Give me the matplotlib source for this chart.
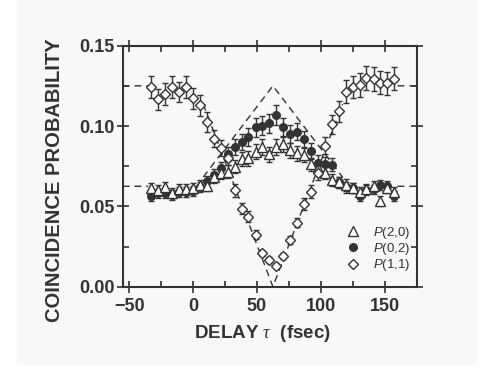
import numpy as np
import matplotlib
matplotlib.use('Agg')
import matplotlib.pyplot as plt
from matplotlib.patches import Rectangle
from matplotlib.ticker import MultipleLocator

# delay positions (fsec)
delay = [-32.6, -27.2, -21.7, -16.3, -10.9, -5.5, 0.0, 5.4, 10.8, 16.3, 21.7, 27.1,
         32.6, 38.0, 43.4, 48.9, 54.3, 59.7, 65.1, 70.6, 76.0, 81.4, 86.9, 92.3,
         97.7, 103.1, 108.6, 114.0, 119.4, 124.9, 130.3, 135.7, 141.2, 146.6, 152.0, 157.5]

p20 = [0.0616, 0.0600, 0.0623, 0.0585, 0.0607, 0.0607, 0.0613, 0.0631, 0.0625, 0.0680, 0.0705, 0.0716,
       0.0747, 0.0795, 0.0799, 0.0840, 0.0872, 0.0823, 0.0867, 0.0887, 0.0848, 0.0830, 0.0820, 0.0763,
       0.0737, 0.0708, 0.0664, 0.0650, 0.0633, 0.0613, 0.0591, 0.0608, 0.0627, 0.0535, 0.0613, 0.0591]
p02 = [0.0565, 0.0581, 0.0581, 0.0571, 0.0591, 0.0591, 0.0597, 0.0619, 0.0656, 0.0698, 0.0737, 0.0826,
       0.0868, 0.0899, 0.0930, 0.0992, 0.1002, 0.1017, 0.1069, 0.0992, 0.0951, 0.0965, 0.0920, 0.0845,
       0.0772, 0.0762, 0.0760, 0.0649, 0.0618, 0.0616, 0.0565, 0.0602, 0.0605, 0.0631, 0.0625, 0.0565]
p11 = [0.1242, 0.1167, 0.1198, 0.1242, 0.1212, 0.1242, 0.1173, 0.1130, 0.1025, 0.0922, 0.0862, 0.0800,
       0.0600, 0.0486, 0.0436, 0.0324, 0.0208, 0.0166, 0.0131, 0.0191, 0.0291, 0.0399, 0.0515, 0.0591,
       0.0710, 0.0878, 0.1011, 0.1092, 0.1214, 0.1242, 0.1256, 0.1301, 0.1295, 0.1270, 0.1266, 0.1295]

e20 = [0.003, 0.003, 0.003, 0.003, 0.003, 0.003, 0.003, 0.003, 0.003, 0.0035, 0.0035, 0.004,
       0.004, 0.0045, 0.0045, 0.0045, 0.005, 0.0045, 0.005, 0.005, 0.0045, 0.0045, 0.0045, 0.004,
       0.004, 0.004, 0.0035, 0.0035, 0.0035, 0.003, 0.003, 0.003, 0.003, 0.003, 0.003, 0.003]
e02 = [0.003, 0.003, 0.003, 0.003, 0.003, 0.003, 0.003, 0.003, 0.0035, 0.0035, 0.004, 0.0045,
       0.005, 0.005, 0.0055, 0.006, 0.006, 0.006, 0.006, 0.006, 0.0055, 0.0055, 0.005, 0.005,
       0.0045, 0.0045, 0.004, 0.0035, 0.0035, 0.003, 0.003, 0.003, 0.003, 0.003, 0.003, 0.003]
e11 = [0.007, 0.0065, 0.007, 0.007, 0.0065, 0.007, 0.0065, 0.0065, 0.006, 0.0055, 0.005, 0.0045,
       0.004, 0.0035, 0.0035, 0.003, 0.002, 0.002, 0.0015, 0.002, 0.0025, 0.003, 0.0035, 0.004,
       0.0045, 0.0055, 0.006, 0.0065, 0.007, 0.007, 0.0075, 0.0075, 0.0075, 0.007, 0.007, 0.007]

# theory curves (dashed), broken where hidden by data
theory_x = [-55, -35, np.nan, 8, 62.5, 117, np.nan, 160, 175]
theory_11 = [0.125, 0.125, np.nan, 0.1136, 0.0, 0.1136, np.nan, 0.125, 0.125]
theory_20 = [0.0625, 0.0625, np.nan, 0.0682, 0.125, 0.0682, np.nan, 0.0625, 0.0625]

ink = '#333333'
plt.rcParams['font.family'] = ['Liberation Sans', 'DejaVu Sans']
plt.rcParams['mathtext.fontset'] = 'custom'
plt.rcParams['mathtext.rm'] = 'Liberation Sans'
plt.rcParams['mathtext.it'] = 'Liberation Serif:italic'
plt.rcParams['mathtext.sf'] = 'Liberation Sans:italic'

fig = plt.figure(figsize=(4.91, 3.82), dpi=100)
fig.patch.set_facecolor('white')
bg = Rectangle((17 / 491, 1 - 365 / 382), 460 / 491, 365 / 382,
               transform=fig.transFigure, facecolor='#f8f8f8', edgecolor='none', zorder=-10)
fig.add_artist(bg)

ax = fig.add_axes([0.2499, 0.2495, 0.5988, 0.6309])
ax.set_facecolor('none')
ax.set_zorder(5)

ax.plot(theory_x, theory_11, color=ink, lw=1.0, ls=(0, (5, 3.5)), zorder=1)
ax.plot(theory_x, theory_20, color=ink, lw=1.0, ls=(0, (5, 3.5)), zorder=1)

ax.errorbar(delay, p02, yerr=e02, fmt='o', ms=5.5, mfc=ink, mec=ink, color=ink,
            elinewidth=1.0, capsize=2.5, capthick=1.0, zorder=3, label=r'$\mathsf{P}$(0,2)')
ax.errorbar(delay, p20, yerr=e20, fmt='^', ms=6.5, mfc='white', mec=ink, mew=1.0, color=ink,
            elinewidth=1.0, capsize=2.5, capthick=1.0, zorder=4, label=r'$\mathsf{P}$(2,0)')
ax.errorbar(delay, p11, yerr=e11, fmt='D', ms=5.5, mfc='white', mec=ink, mew=1.0, color=ink,
            elinewidth=1.0, capsize=2.5, capthick=1.0, zorder=5, label=r'$\mathsf{P}$(1,1)')

ax.set_xlim(-55, 175)
ax.set_ylim(0, 0.15)
ax.xaxis.set_major_locator(MultipleLocator(50))
ax.xaxis.set_minor_locator(MultipleLocator(25))
ax.yaxis.set_major_locator(MultipleLocator(0.05))
ax.yaxis.set_minor_locator(MultipleLocator(0.025))
ax.yaxis.set_major_formatter(plt.FormatStrFormatter('%.2f'))

for s in ax.spines.values():
    s.set_color(ink)
    s.set_linewidth(1.5)
ax.tick_params(which='both', top=True, right=True, color=ink, labelcolor=ink,
               labelsize=13, width=1.2)
ax.tick_params(which='major', direction='inout', length=8, pad=2)
ax.tick_params(axis='x', which='major', pad=4)
ax.tick_params(which='minor', direction='in', length=4)
for lab in ax.get_xticklabels() + ax.get_yticklabels():
    lab.set_fontweight('bold')

ax.set_xlabel(r'DELAY $\tau$  (fsec)', fontsize=13.5, fontweight='bold', color=ink)
ax.xaxis.set_label_coords(0.474, -0.15)
ax.set_ylabel('COINCIDENCE PROBABILITY', fontsize=14.5, fontweight='bold', color=ink)
ax.yaxis.set_label_coords(-0.201, 0.443)

handles, labels = ax.get_legend_handles_labels()
order = [1, 0, 2]
leg = ax.legend([handles[i][0] for i in order], [labels[i] for i in order],
                loc='lower left', bbox_to_anchor=(0.73, 0.017), frameon=False,
                fontsize=9.5, handlelength=1.0, handletextpad=1.0, labelspacing=0.02,
                borderpad=0.2, labelcolor=ink)

fig.savefig('out.png', dpi=100, facecolor=fig.get_facecolor())
